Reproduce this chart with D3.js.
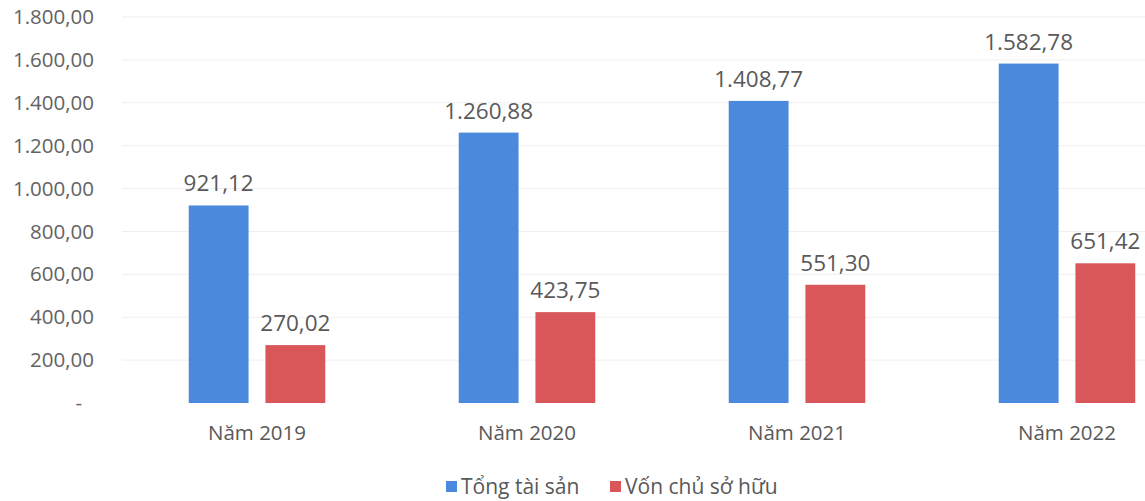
<!DOCTYPE html>
<html lang="vi">
<head>
<meta charset="UTF-8">
<title>Tổng tài sản và Vốn chủ sở hữu</title>
<script src="https://d3js.org/d3.v7.min.js"></script>
<style>
  body { margin: 0; background: #fff; }
  svg text { font-family: "Open Sans", "Noto Sans", sans-serif; }
</style>
</head>
<body>
<svg id="chart" width="1145" height="501"></svg>
<script>
// data
const years = ["Năm 2019", "Năm 2020", "Năm 2021", "Năm 2022"];
const seriesNames = ["Tổng tài sản", "Vốn chủ sở hữu"];
const tongTaiSan = [921.12, 1260.88, 1408.77, 1582.78];
const vonChuSoHuu = [270.02, 423.75, 551.30, 651.42];
const yTicks = [0, 200, 400, 600, 800, 1000, 1200, 1400, 1600, 1800];
const colors = ["#4a89dc", "#d9575a"];

const vn = d3.formatLocale({ decimal: ",", thousands: ".", grouping: [3], currency: ["", ""] });
const fmt = vn.format(",.2f");

const svg = d3.select("#chart");

const x0 = d3.scaleBand().domain(years).range([122, 1202]).paddingInner(0).paddingOuter(0);
const x1 = d3.scaleBand().domain(seriesNames).range([0, x0.bandwidth()]).paddingInner(0.22).paddingOuter(0.87);
const y = d3.scaleLinear().domain([0, 1800]).range([403, 17]);

// gridlines
svg.append("g")
  .selectAll("line")
  .data(yTicks.slice(1))
  .join("line")
  .attr("x1", 122).attr("x2", 1145)
  .attr("y1", d => y(d)).attr("y2", d => y(d))
  .attr("stroke", "#efefef").attr("stroke-width", 1);

// y axis
const yAxis = svg.append("g")
  .attr("transform", "translate(94,0)")
  .call(d3.axisLeft(y).tickValues(yTicks).tickSize(0).tickPadding(0)
    .tickFormat(d => d === 0 ? "-" : fmt(d)));
yAxis.select(".domain").remove();
yAxis.selectAll("text").attr("fill", "#636363").style("font-size", "20.5px");
yAxis.selectAll(".tick").filter(d => d === 0).select("text").attr("dx", "-12px");

// x axis labels
const xAxis = svg.append("g")
  .attr("transform", "translate(0,403)")
  .call(d3.axisBottom(x0).tickSize(0).tickPadding(22));
xAxis.select(".domain").remove();
xAxis.selectAll("text").attr("fill", "#595959").style("font-size", "20.5px");

// bars
const rows = years.map((yr, i) => ({ year: yr, vals: [tongTaiSan[i], vonChuSoHuu[i]] }));
const groups = svg.append("g").selectAll("g")
  .data(rows).join("g")
  .attr("transform", d => `translate(${x0(d.year)},0)`);

groups.selectAll("rect")
  .data(d => d.vals.map((v, j) => ({ name: seriesNames[j], v, j })))
  .join("rect")
  .attr("x", d => x1(d.name))
  .attr("y", d => y(d.v))
  .attr("width", x1.bandwidth())
  .attr("height", d => y(0) - y(d.v))
  .attr("fill", d => colors[d.j]);

groups.selectAll("text.val")
  .data(d => d.vals.map((v, j) => ({ name: seriesNames[j], v, j })))
  .join("text")
  .attr("class", "val")
  .attr("x", d => x1(d.name) + x1.bandwidth() / 2)
  .attr("y", d => y(d.v) - 14)
  .attr("text-anchor", "middle")
  .attr("fill", "#595959")
  .style("font-size", "22.5px")
  .text(d => fmt(d.v));

// legend
const legend = svg.append("g").attr("transform", "translate(446,487)");
const legendX = [0, 164];
seriesNames.forEach((n, i) => {
  const g = legend.append("g").attr("transform", `translate(${legendX[i]},0)`);
  g.append("rect").attr("x", 0).attr("y", -6).attr("width", 11).attr("height", 11).attr("fill", colors[i]);
  g.append("text").attr("x", 15).attr("y", 0).attr("dy", "0.35em")
    .attr("fill", "#595959").style("font-size", "21px").text(n);
});
</script>
</body>
</html>
